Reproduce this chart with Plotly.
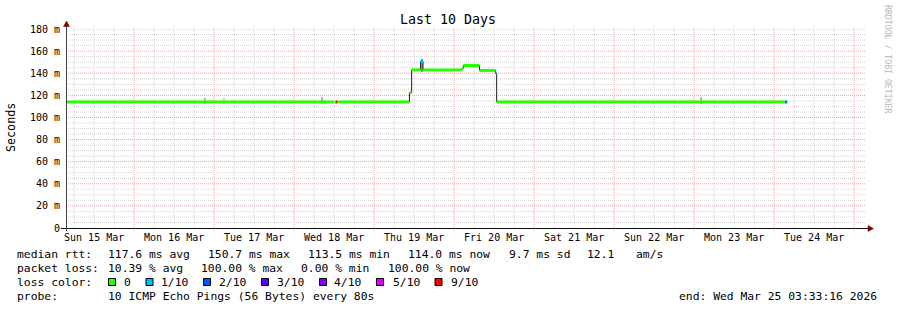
import plotly.graph_objects as go
import pandas as pd

# ---------------- data ----------------
x_start = "2026-03-15 03:33:16"
x_end = "2026-03-25 03:33:16"

# median rtt step segments (ms); None = no data
seg_start = ["2026-03-15 03:33:16", "2026-03-18 12:00", "2026-03-18 12:24", "2026-03-18 12:54",
             "2026-03-19 10:35", "2026-03-19 11:15", "2026-03-19 13:55", "2026-03-19 14:40",
             "2026-03-20 02:20", "2026-03-20 02:45", "2026-03-20 07:36", "2026-03-20 12:25",
             "2026-03-20 12:45", "2026-03-24 03:18"]
seg_rtt = [114.0, None, 114.0, 114.0,
           122.5, 143.0, 150.7, 143.0,
           144.5, 147.0, 142.5, 140.0,
           114.0, 114.0]
seg_loss = [0, 0, 9, 0,
            0, 0, 1, 0,
            0, 0, 0, 1,
            0, 2]
data_end = "2026-03-24 03:54"

# smoke (rtt spread) bars
smoke_time = ["2026-03-16 21:15", "2026-03-17 03:00", "2026-03-18 08:20", "2026-03-18 09:20",
              "2026-03-19 14:20", "2026-03-23 02:00"]
smoke_low = [112.0, 112.0, 112.0, 112.0, 141.0, 112.0]
smoke_high = [117.8, 117.5, 118.5, 116.0, 152.6, 118.5]
smoke_color = ["#b4b4b4", "#d0d0d0", "#b4b4b4", "#d0d0d0", "#909090", "#b4b4b4"]

loss_levels = [0, 1, 2, 3, 4, 5, 9]
loss_labels = ["0", "1/10", "2/10", "3/10", "4/10", "5/10", "9/10"]
loss_colors = ["#26ff00", "#00b8ff", "#0059ff", "#5e00ff", "#7e00ff", "#dd00ff", "#ff0000"]

y_ticks = [0, 20, 40, 60, 80, 100, 120, 140, 160, 180]
y_ticktext = ["0", "20 m", "40 m", "60 m", "80 m", "100 m", "120 m", "140 m", "160 m", "180 m"]

title = "Last 10 Days"
y_title = "Seconds"
watermark = "RRDTOOL / TOBI OETIKER"

# ---------------- layout geometry ----------------
W, H = 897, 310
ML, MR, MT, MB = 66, 31, 29, 82
PW = W - ML - MR
PH = H - MT - MB
FONT = "DejaVu Sans Mono"


def px(x):
    return (x - ML) / PW


def py(y):
    return (H - MB - y) / PH


def tparse(lst):
    return list(pd.to_datetime(pd.Series(lst), format="mixed"))


fig = go.Figure()

# smoke
t_smoke = tparse(smoke_time)
fig.add_trace(go.Bar(
    x=t_smoke, base=smoke_low,
    y=[h - l for h, l in zip(smoke_high, smoke_low)],
    width=[25 * 60 * 1000] * len(smoke_time),
    marker=dict(color=smoke_color, line=dict(width=0)),
    hoverinfo="skip", showlegend=False))

# black median line (steps)
ts = tparse(seg_start + [data_end])
bx, by = [], []
for i, v in enumerate(seg_rtt):
    if v is None:
        continue
    bx += [ts[i], ts[i + 1]]
    by += [v, v]
    nxt = seg_rtt[i + 1] if i + 1 < len(seg_rtt) else None
    if nxt is not None:
        bx += [ts[i + 1]]
        by += [nxt]
    else:
        bx += [None]
        by += [None]
fig.add_trace(go.Scatter(x=bx, y=by, mode="lines", line=dict(color="#202020", width=1),
                         hoverinfo="skip", showlegend=False))

# loss coloured median segments
for lvl, col in zip(loss_levels, loss_colors):
    gx, gy = [], []
    for i, v in enumerate(seg_rtt):
        if v is None or seg_loss[i] != lvl:
            continue
        gx += [ts[i], ts[i + 1], None]
        gy += [v, v, None]
    if gx:
        fig.add_trace(go.Scatter(x=gx, y=gy, mode="lines", line=dict(color=col, width=3),
                                 hoverinfo="skip", showlegend=False))

MAJ = "#f3a0a0"
MIN = "#d6d6d6"
DOT = "1px,1px"

fig.update_layout(
    width=W, height=H,
    margin=dict(l=ML, r=MR, t=MT, b=MB, pad=0),
    paper_bgcolor="white", plot_bgcolor="white",
    showlegend=False, bargap=0,
    font=dict(family=FONT, size=10, color="black"),
    xaxis=dict(
        type="date", range=[x_start, x_end],
        tick0="2026-03-15", dtick=86400000, tickformat="%a %d %b",
        ticklabelmode="period",
        showgrid=False, ticks="", showline=False, zeroline=False,
        ticklabelstandoff=2,
        tickfont=dict(family=FONT, size=10, color="#000000"),
        fixedrange=True,
    ),
    yaxis=dict(
        range=[0, 180], tickmode="array", tickvals=y_ticks, ticktext=y_ticktext,
        showgrid=False, ticks="", showline=False, zeroline=False,
        ticklabelstandoff=5,
        tickfont=dict(family=FONT, size=10, color="#000000"),
        fixedrange=True,
    ),
)

shapes = []
# grid: vertical every 6 h (major at midnight), horizontal every 5 ms (major every 20)
for t in pd.date_range("2026-03-15 06:00", "2026-03-25 00:00", freq="6h"):
    major = t.hour == 0
    shapes.append(dict(type="line", xref="x", yref="paper", x0=t, x1=t,
                       y0=py(231) if major else 0, y1=py(27), layer="below",
                       line=dict(color=MAJ if major else MIN, width=1, dash=DOT)))
for v in range(5, 181, 5):
    major = v % 20 == 0
    shapes.append(dict(type="line", xref="paper", yref="y", x0=0, x1=1, y0=v, y1=v,
                       layer="below",
                       line=dict(color=MAJ if major else MIN, width=1, dash=DOT)))

# axes
shapes.append(dict(type="line", xref="paper", yref="paper", x0=px(61), x1=px(868), y0=py(228.5), y1=py(228.5),
                   line=dict(color="#101010", width=1)))
shapes.append(dict(type="line", xref="paper", yref="paper", x0=px(66.5), x1=px(66.5), y0=py(231), y1=py(25),
                   line=dict(color="#404040", width=1)))
# arrows
shapes.append(dict(type="path", xref="paper", yref="paper",
                   path=f"M {px(868)} {py(225.5)} L {px(873.5)} {py(228.5)} L {px(868)} {py(231.5)} Z",
                   fillcolor="#7f0000", line=dict(color="#7f0000", width=0.5)))
shapes.append(dict(type="path", xref="paper", yref="paper",
                   path=f"M {px(63.5)} {py(26.5)} L {px(66.5)} {py(21)} L {px(69.5)} {py(26.5)} Z",
                   fillcolor="#7f0000", line=dict(color="#7f0000", width=0.5)))

annotations = []


def text(x, y, s, size=11.35, anchor="left", color="black", angle=0):
    annotations.append(dict(x=px(x), y=py(y), xref="paper", yref="paper", text=s,
                            showarrow=False, xanchor=anchor, yanchor="middle",
                            textangle=angle, borderpad=0,
                            font=dict(family=FONT, size=size, color=color)))


text(448, 20, title, size=13.3, anchor="center")
text(11, 127, y_title, size=11.7, anchor="center", angle=-90)
text(888, 59, watermark, size=8.2, anchor="center", color="#b8b8b8", angle=90)

# legend lines
L1, L2, L3, L4 = 254, 268, 282, 296
text(16, L1, "median rtt:")
text(107, L1, "117.6 ms avg")
text(207, L1, "150.7 ms max")
text(307, L1, "113.5 ms min")
text(407, L1, "114.0 ms now")
text(508, L1, "9.7 ms sd")
text(586, L1, "12.1")
text(635, L1, "am/s")

text(16, L2, "packet loss:")
text(107, L2, "10.39 % avg")
text(200, L2, "100.00 % max")
text(300, L2, "0.00 % min")
text(386.5, L2, "100.00 % now")

text(16, L3, "loss color:")
sq_x = [108.5, 146, 203.5, 261.5, 319.5, 376.5, 435]
lab_x = [123, 160, 218, 276, 333, 391.5, 450]
for sx, lx, lab, col in zip(sq_x, lab_x, loss_labels, loss_colors):
    shapes.append(dict(type="rect", xref="paper", yref="paper",
                       x0=px(sx), x1=px(sx + 7), y0=py(278.5), y1=py(285.5),
                       fillcolor=col, line=dict(color="#000000", width=1)))
    text(lx, L3, lab)

text(16, L4, "probe:")
text(107, L4, "10 ICMP Echo Pings (56 Bytes) every 80s")
text(678, L4, "end: Wed Mar 25 03:33:16 2026")

fig.update_layout(shapes=shapes, annotations=annotations)
fig.write_html("out.html")
